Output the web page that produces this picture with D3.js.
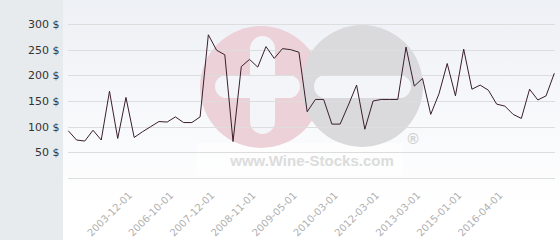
<!DOCTYPE html>
<html>
<head>
<meta charset="utf-8">
<script src="https://cdn.jsdelivr.net/npm/d3@7"></script>
<style>
    html, body { margin: 0; padding: 0; background: #fff; }
    svg { display: block; }
</style>
</head>
<body>
<svg id="chart"></svg>
<script>
// Price history line chart
const width = 560;
const height = 240;

// Price values ($), one per point
const prices = [
    92, 74, 72, 93, 74, 169, 77, 157, 79, 90,
    100, 110, 109, 119, 108, 108, 119, 279, 249, 240,
    71, 217, 231, 216, 256, 233, 252, 250, 245, 129,
    153, 153, 105, 105, 142, 181, 95, 150, 153, 153,
    153, 255, 179, 194, 124, 164, 223, 160, 251, 173,
    181, 171, 144, 140, 124, 116, 173, 152, 160, 204
];

// Labelled dates on the x axis (every 5th point)
const tickLabels = [
    '2003-12-01', '2006-10-01', '2007-12-01', '2008-11-01', '2009-05-01',
    '2010-03-01', '2012-03-01', '2013-03-01', '2015-01-01', '2016-04-01'
];
const firstLabelIndex = 8;
const labelStep = 5;

// Y axis ticks
const yTicks = [0, 50, 100, 150, 200, 250, 300];

const svg = d3.select("#chart")
    .attr("width", width)
    .attr("height", height);

// Background gradient for the plot part
const defs = svg.append("defs");
const grad = defs.append("linearGradient")
    .attr("id", "bgGrad")
    .attr("x1", 0).attr("y1", 0)
    .attr("x2", 0).attr("y2", 1);
grad.append("stop").attr("offset", "0%").attr("stop-color", "#edf0f5");
grad.append("stop").attr("offset", "85%").attr("stop-color", "#ffffff");

svg.append("rect")
    .attr("x", 0).attr("y", 0)
    .attr("width", width).attr("height", height)
    .attr("fill", "url(#bgGrad)");

// Left panel behind the y labels
svg.append("rect")
    .attr("x", 0).attr("y", 0)
    .attr("width", 63).attr("height", height)
    .attr("fill", "#e7ebee");

const x = d3.scalePoint()
    .domain(d3.range(prices.length))
    .range([68.3, 554.3]);

const y = d3.scaleLinear()
    .domain([0, 300])
    .range([178, 24]);

// Watermark logo
const wm = svg.append("g").attr("id", "watermark");
wm.append("rect")
    .attr("x", 197).attr("y", 143)
    .attr("width", 206).attr("height", 32)
    .attr("fill", "#ffffff")
    .attr("opacity", 0.6);
wm.append("circle")
    .attr("cx", 261).attr("cy", 87).attr("r", 61)
    .attr("fill", "#ecd1d9");
wm.append("circle")
    .attr("cx", 362).attr("cy", 86).attr("r", 61)
    .attr("fill", "#dadadc");
// white "f" in the pink circle
wm.append("rect")
    .attr("x", 250).attr("y", 36)
    .attr("width", 25).attr("height", 98)
    .attr("rx", 12.5)
    .attr("fill", "#f4f5f8");
wm.append("rect")
    .attr("x", 215).attr("y", 75)
    .attr("width", 85).attr("height", 23)
    .attr("rx", 11.5)
    .attr("fill", "#f4f5f8");
// white bar in the grey circle
wm.append("rect")
    .attr("x", 314).attr("y", 75)
    .attr("width", 97).attr("height", 23)
    .attr("rx", 11.5)
    .attr("fill", "#f4f5f8");
wm.append("text")
    .attr("x", 312).attr("y", 166)
    .attr("text-anchor", "middle")
    .attr("font-family", "Liberation Sans, Arial, sans-serif")
    .attr("font-weight", "bold")
    .attr("font-size", 15)
    .attr("fill", "#dcdcdc")
    .text("www.Wine-Stocks.com");
wm.append("text")
    .attr("x", 413).attr("y", 144)
    .attr("text-anchor", "middle")
    .attr("font-family", "Liberation Sans, Arial, sans-serif")
    .attr("font-weight", "bold")
    .attr("font-size", 15)
    .attr("fill", "#d0d0d0")
    .text("®");

// Grid lines
svg.append("g")
    .selectAll("line")
    .data(yTicks)
    .enter()
    .append("line")
    .attr("x1", 68)
    .attr("x2", 555)
    .attr("y1", d => Math.round(y(d)) + 0.5)
    .attr("y2", d => Math.round(y(d)) + 0.5)
    .attr("stroke", "#dddddd")
    .attr("stroke-width", 1);

// Y labels (no label at 0)
svg.append("g")
    .selectAll("text")
    .data(yTicks.filter(d => d > 0))
    .enter()
    .append("text")
    .attr("x", 59.5)
    .attr("y", d => y(d) + 4)
    .attr("text-anchor", "end")
    .attr("font-family", "DejaVu Sans, Verdana, sans-serif")
    .attr("font-size", 11)
    .attr("fill", "#333333")
    .text(d => d + " $");

// X labels, rotated
svg.append("g")
    .selectAll("text")
    .data(tickLabels)
    .enter()
    .append("text")
    .attr("transform", (d, i) => {
        const tx = x(firstLabelIndex + i * labelStep) - 1.5;
        return "translate(" + tx + ",196) rotate(-45)";
    })
    .attr("text-anchor", "end")
    .attr("font-family", "DejaVu Sans, Verdana, sans-serif")
    .attr("font-size", 10)
    .attr("fill", "#b0b0b0")
    .text(d => d);

// Price line
const line = d3.line()
    .x((d, i) => x(i))
    .y(d => y(d));

svg.append("path")
    .datum(prices)
    .attr("d", line)
    .attr("fill", "none")
    .attr("stroke", "#3a1e2c")
    .attr("stroke-width", 1);
</script>
</body>
</html>
